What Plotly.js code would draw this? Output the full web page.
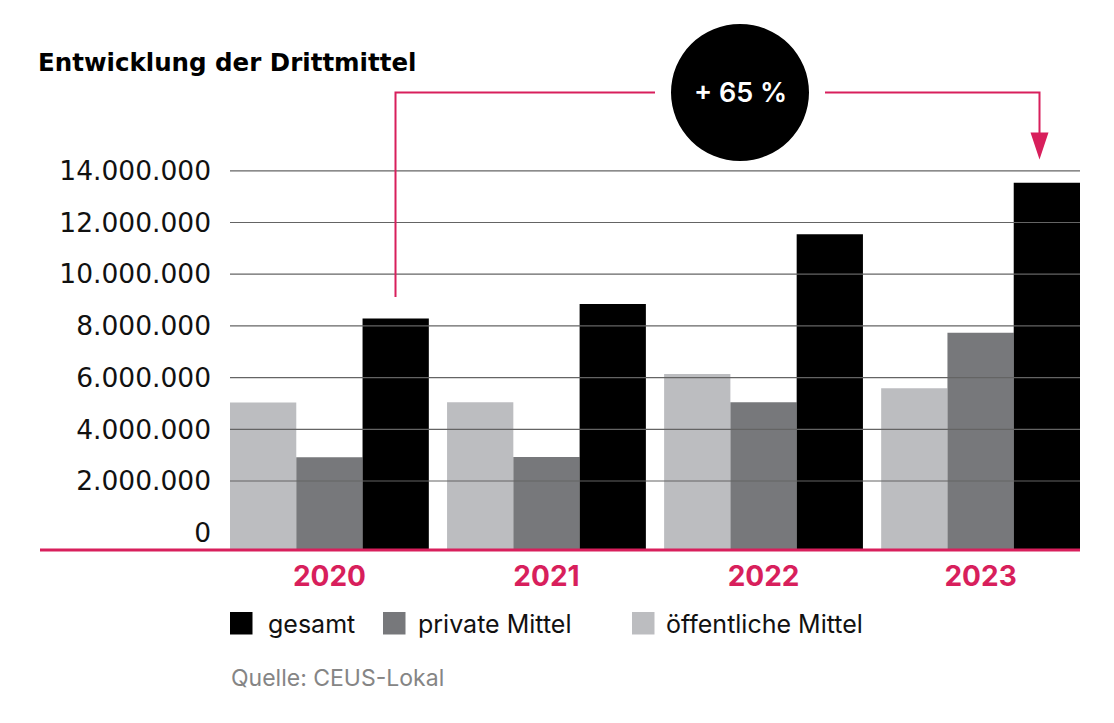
<!DOCTYPE html>
<html>
<head>
<meta charset="utf-8">
<script src="https://cdn.plot.ly/plotly-3.0.1.min.js"></script>
<style>
  html, body { margin: 0; padding: 0; background: #ffffff; }
  #chart { width: 1114px; height: 723px; }
</style>
</head>
<body>
<div id="chart"></div>
<script>
// ---- Data ----
const years = ['2020', '2021', '2022', '2023'];
const oeffentlicheMittel = [5040000, 5050000, 6140000, 5590000];
const privateMittel = [2920000, 2930000, 5050000, 7740000];
const gesamt = [8290000, 8850000, 11550000, 13540000];
const seriesNames = ['gesamt', 'private Mittel', 'öffentliche Mittel'];
const yTickVals = [0, 2000000, 4000000, 6000000, 8000000, 10000000, 12000000, 14000000];
const yTickText = ['0', '2.000.000', '4.000.000', '6.000.000', '8.000.000', '10.000.000', '12.000.000', '14.000.000'];
const titleText = 'Entwicklung der Drittmittel';
const changeLabel = '+ 65 %';
const sourceText = 'Quelle: CEUS-Lokal';

// ---- Styles ----
const FONT = 'Inter, "Liberation Sans", Arial, sans-serif';
const FONT_WIDE = '"DejaVu Sans", Inter, Arial, sans-serif';
const RED = '#d81f5c';
const C_GES = '#000000', C_PRIV = '#77787b', C_OEFF = '#bcbdc0';
const W = 1114, H = 723;
const M = { l: 230, r: 34, t: 150, b: 173 };
const PW = W - M.l - M.r, PH = H - M.t - M.b;
const Y_RANGE = [-669000, 14805000];
const BAR_BASE = Y_RANGE[0]; // bars in the original run down to the red base line

const px = x => (x - M.l) / PW;           // pixel -> paper x
const py = y => (H - M.b - y) / PH;        // pixel -> paper y

function barTrace(name, vals, color) {
  return {
    type: 'bar', name: name, x: years,
    y: vals.map(v => v - BAR_BASE), base: BAR_BASE,
    marker: { color: color, line: { width: 0 } },
    hoverinfo: 'skip', showlegend: false
  };
}

const data = [
  barTrace('öffentliche Mittel', oeffentlicheMittel, C_OEFF),
  barTrace('private Mittel', privateMittel, C_PRIV),
  barTrace('gesamt', gesamt, C_GES)
];

const shapes = [];
// grid lines drawn above bars (as in original)
yTickVals.filter(v => v !== 0).forEach(v => {
  shapes.push({ type: 'line', layer: 'above', xref: 'paper', yref: 'y',
    x0: 0, x1: 1, y0: v, y1: v, line: { color: '#646464', width: 1.2 } });
});
// red base line
shapes.push({ type: 'line', layer: 'above', xref: 'paper', yref: 'paper',
  x0: px(40), x1: 1, y0: py(550), y1: py(550), line: { color: RED, width: 3 } });
// bracket
shapes.push({ type: 'path', layer: 'above', xref: 'paper', yref: 'paper',
  path: `M ${px(395.5)} ${py(297)} L ${px(395.5)} ${py(92.5)} L ${px(655)} ${py(92.5)}`,
  line: { color: RED, width: 2 } });
shapes.push({ type: 'path', layer: 'above', xref: 'paper', yref: 'paper',
  path: `M ${px(825)} ${py(92.5)} L ${px(1039.5)} ${py(92.5)} L ${px(1039.5)} ${py(135)}`,
  line: { color: RED, width: 2 } });
shapes.push({ type: 'path', layer: 'above', xref: 'paper', yref: 'paper',
  path: `M ${px(1030.5)} ${py(132.5)} L ${px(1048.5)} ${py(132.5)} L ${px(1039.5)} ${py(159.5)} Z`,
  fillcolor: RED, line: { color: RED, width: 0 } });
// black circle
shapes.push({ type: 'circle', layer: 'above', xref: 'paper', yref: 'paper',
  x0: px(671), x1: px(809), y0: py(161), y1: py(24),
  fillcolor: '#000000', line: { width: 0 } });

// custom legend (squares + labels)
const legendItems = [
  { name: seriesNames[0], color: C_GES, sq: 230, tx: 266 },
  { name: seriesNames[1], color: C_PRIV, sq: 383, tx: 416 },
  { name: seriesNames[2], color: C_OEFF, sq: 632, tx: 664 }
];
const annotations = [];
legendItems.forEach(it => {
  shapes.push({ type: 'rect', xref: 'paper', yref: 'paper',
    x0: px(it.sq), x1: px(it.sq + 22.5), y0: py(634.5), y1: py(612),
    fillcolor: it.color, line: { width: 0 } });
  annotations.push({ xref: 'paper', yref: 'paper', x: px(it.tx), y: py(624),
    xanchor: 'left', yanchor: 'middle', showarrow: false, text: it.name,
    font: { family: FONT, size: 25, color: '#111111' } });
});
annotations.push({ xref: 'paper', yref: 'paper', x: px(740), y: py(92.5),
  xanchor: 'center', yanchor: 'middle', showarrow: false, text: changeLabel,
  font: { family: FONT, size: 27, color: '#ffffff', weight: 600 } });
annotations.push({ xref: 'paper', yref: 'paper', x: px(229), y: py(678),
  xanchor: 'left', yanchor: 'middle', showarrow: false, text: sourceText,
  font: { family: FONT, size: 23, color: '#858585' } });

const layout = {
  width: W, height: H,
  margin: M,
  paper_bgcolor: '#ffffff', plot_bgcolor: '#ffffff',
  barmode: 'group', bargap: 0.084, bargroupgap: 0,
  showlegend: false,
  title: { text: '<b>' + titleText + '</b>', xref: 'container', yref: 'container',
    x: 38 / W, xanchor: 'left', y: 1 - 62 / H, yanchor: 'middle',
    font: { family: FONT_WIDE, size: 24.5, color: '#000000' } },
  xaxis: { type: 'category', range: [-0.458, 3.458], showgrid: false, zeroline: false,
    showline: false, ticks: '', ticklabelstandoff: 7,
    tickfont: { family: FONT, size: 28, color: RED, weight: 700 } },
  yaxis: { range: Y_RANGE, tickvals: yTickVals, ticktext: yTickText,
    showgrid: false, zeroline: false, showline: false, ticks: '',
    ticklabelstandoff: 18,
    tickfont: { family: FONT_WIDE, size: 26.5, color: '#111111' } },
  shapes: shapes,
  annotations: annotations
};

Plotly.newPlot('chart', data, layout, { displayModeBar: false, staticPlot: true });
</script>
</body>
</html>
